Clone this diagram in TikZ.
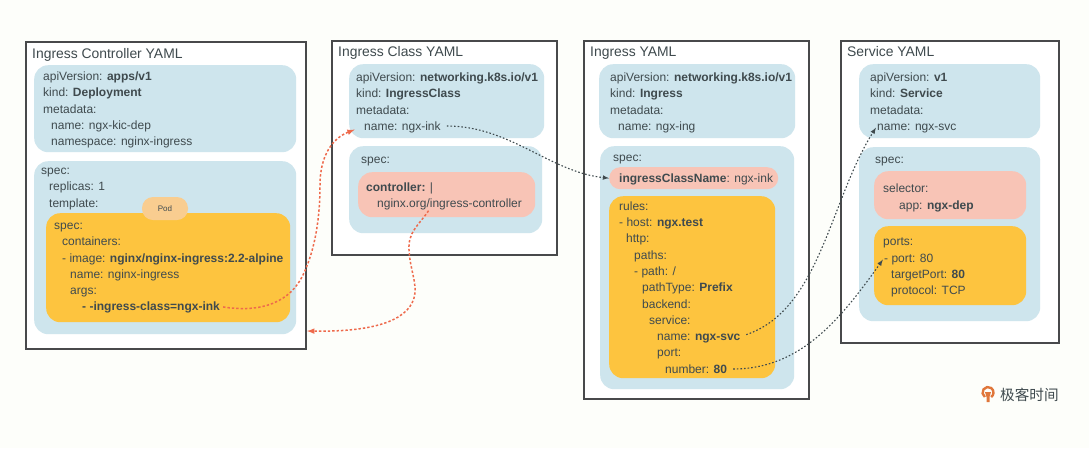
\documentclass[tikz,border=0pt]{standalone}
\usepackage{fontspec}
\setmainfont{Liberation Sans}
\newfontfamily\cjk{Noto Sans CJK SC}
\definecolor{paper}{HTML}{FDFEFA}
\definecolor{framegray}{HTML}{48494B}
\definecolor{bluefill}{HTML}{CEE5ED}
\definecolor{yellowfill}{HTML}{FDC43F}
\definecolor{redfill}{HTML}{F8C4B6}
\definecolor{podfill}{HTML}{F9CD90}
\definecolor{inkgray}{HTML}{3F4A4E}
\definecolor{linkred}{HTML}{EE6A4C}
\definecolor{logoorange}{HTML}{E0763A}
\tikzset{>=latex}
\tikzset{
  panel/.style={draw=framegray,line width=1.6pt,fill=white,anchor=north west,inner sep=0pt},
  blob/.style={anchor=north west,inner sep=0pt,rounded corners=14pt},
  bluebox/.style={blob,fill=bluefill},
  yellowbox/.style={blob,fill=yellowfill},
  redbox/.style={blob,fill=redfill},
  yl/.style={anchor=west,inner sep=0pt,text=inkgray,text height=11pt,text depth=3pt,font=\fontsize{12}{14}\selectfont},
  ttl/.style={anchor=west,inner sep=0pt,text=inkgray,text height=12pt,text depth=3pt,font=\fontsize{13.9}{16}\selectfont},
  redlink/.style={->,linkred,line width=1.5pt,dash pattern=on 2.4pt off 2pt},
  blacklink/.style={->,inkgray,line width=1.1pt,dash pattern=on 1.6pt off 2pt},
}
\newcommand{\bx}[1]{\textbf{#1}}

\begin{document}
\begin{tikzpicture}[x=1pt,y=-1pt]
  \useasboundingbox[fill=paper] (0,0) rectangle (1089,448);

  % frames
  \node[panel,minimum width=280pt,minimum height=307pt] (ctlframe) at (25,41) {};
  \node[panel,minimum width=225pt,minimum height=214pt] (clsframe) at (331,40) {};
  \node[panel,minimum width=225pt,minimum height=358pt] (ingframe) at (583,40) {};
  \node[panel,minimum width=218pt,minimum height=302pt] (svcframe) at (840,40) {};

  % fills
  \node[bluebox,minimum width=262pt,minimum height=87pt] (ctlmeta) at (34,65) {};
  \node[bluebox,minimum width=262pt,minimum height=173pt] (ctlspec) at (34,161) {};
  \node[yellowbox,minimum width=244pt,minimum height=109pt] (ctlpod) at (46,213) {};
  \node[fill=podfill,rounded corners=11pt,minimum width=46pt,minimum height=23pt,inner sep=0pt,text=inkgray,font=\fontsize{8}{9}\selectfont] (podtag) at (165,208.5) {Pod};
  \node[bluebox,minimum width=195pt,minimum height=74pt] (clsmeta) at (349,64) {};
  \node[bluebox,minimum width=193pt,minimum height=87pt] (clsspec) at (349,146) {};
  \node[redbox,minimum width=177pt,minimum height=45pt] (clsctl) at (358,172) {};
  \node[bluebox,minimum width=196pt,minimum height=74pt] (ingmeta) at (599,64) {};
  \node[bluebox,minimum width=194pt,minimum height=243pt] (ingspec) at (600,146) {};
  \node[redbox,rounded corners=11pt,minimum width=169pt,minimum height=22pt] (ingcls) at (609,167) {};
  \node[yellowbox,minimum width=166pt,minimum height=182pt] (ingrules) at (609,196) {};
  \node[bluebox,minimum width=181pt,minimum height=74pt] (svcmeta) at (859,64) {};
  \node[bluebox,minimum width=181pt,minimum height=174pt] (svcspec) at (859,147) {};
  \node[redbox,minimum width=152pt,minimum height=48pt] (svcsel) at (874,171) {};
  \node[yellowbox,minimum width=152pt,minimum height=79pt] (svcports) at (874,226) {};

  % Ingress Controller YAML
  \node[ttl] (ctltitle) at (32,54) {Ingress Controller YAML};
  \node[yl] (c1) at (43,76.5) {apiVersion: \bx{apps/v1}};
  \node[yl] (c2) at (43,92.5) {kind: \bx{Deployment}};
  \node[yl] (c3) at (43,109) {metadata:};
  \node[yl] (c4) at (51,125.5) {name: ngx-kic-dep};
  \node[yl] (c5) at (51,141.5) {namespace: nginx-ingress};
  \node[yl] (c6) at (41,170) {spec:};
  \node[yl] (c7) at (49,186) {replicas: 1};
  \node[yl] (c8) at (49,203) {template:};
  \node[yl] (c9) at (54,225.5) {spec:};
  \node[yl] (c10) at (62,241.5) {containers:};
  \node[yl] (c11) at (62,258) {- image: \bx{nginx/nginx-ingress:2.2-alpine}};
  \node[yl] (c12) at (70,274) {name: nginx-ingress};
  \node[yl] (c13) at (70,290.5) {args:};
  \node[yl] (ctlarg) at (82,306.5) {\bx{- -ingress-class=ngx-ink}};

  % Ingress Class YAML
  \node[ttl] (clstitle) at (338,52) {Ingress Class YAML};
  \node[yl] (k1) at (356,77) {apiVersion: \bx{networking.k8s.io/v1}};
  \node[yl] (k2) at (356,93) {kind: \bx{IngressClass}};
  \node[yl] (k3) at (356,110) {metadata:};
  \node[yl] (clsname) at (364,126) {name: ngx-ink};
  \node[yl] (k4) at (361,159) {spec:};
  \node[yl] (k5) at (366,187) {\bx{controller:} |};
  \node[yl] (clspath) at (377,203.5) {nginx.org/ingress-controller};

  % Ingress YAML
  \node[ttl] (ingtitle) at (590,52) {Ingress YAML};
  \node[yl] (i1) at (610,77) {apiVersion: \bx{networking.k8s.io/v1}};
  \node[yl] (i2) at (610,93) {kind: \bx{Ingress}};
  \node[yl] (i3) at (610,110) {metadata:};
  \node[yl] (i4) at (618,126) {name: ngx-ing};
  \node[yl] (i5) at (613,157) {spec:};
  \node[yl] (ingclsname) at (619,178) {\bx{ingressClassName}: ngx-ink};
  \node[yl] (i6) at (619,206) {rules:};
  \node[yl] (i7) at (619,222) {- host: \bx{ngx.test}};
  \node[yl] (i8) at (626,238.5) {http:};
  \node[yl] (i9) at (634,255) {paths:};
  \node[yl] (i10) at (634,271) {- path: /};
  \node[yl] (i11) at (642,287.5) {pathType: \bx{Prefix}};
  \node[yl] (i12) at (642,304) {backend:};
  \node[yl] (i13) at (649,320) {service:};
  \node[yl] (ingsvc) at (657,336.5) {name: \bx{ngx-svc}};
  \node[yl] (i14) at (657,352.5) {port:};
  \node[yl] (ingport) at (665,369) {number: \bx{80}};

  % Service YAML
  \node[ttl] (svctitle) at (847,52) {Service YAML};
  \node[yl] (s1) at (870,77) {apiVersion: \bx{v1}};
  \node[yl] (s2) at (870,93) {kind: \bx{Service}};
  \node[yl] (s3) at (870,110) {metadata:};
  \node[yl] (svcname) at (877,126) {name: ngx-svc};
  \node[yl] (s4) at (875,159) {spec:};
  \node[yl] (s5) at (883,188) {selector:};
  \node[yl] (s6) at (899,205) {app: \bx{ngx-dep}};
  \node[yl] (s7) at (883,241) {ports:};
  \node[yl] (svcport) at (884,258) {- port: 80};
  \node[yl] (s8) at (891,274) {targetPort: \bx{80}};
  \node[yl] (s9) at (891,290.5) {protocol: TCP};

  % links
  \coordinate (backarrow) at (307,331);
  \draw[redlink,shorten <=3pt,shorten >=10pt] (ctlarg.east) .. controls (262,313) and (290,302) .. (303,275)
    .. controls (316,248) and (320,215) .. (320,185)
    .. controls (320,155) and (333,138) .. (clsname.west);
  \draw[redlink] ([xshift=-21pt]clspath.south) .. controls (418,226) and (408,232) .. (409,250)
    .. controls (410,270) and (418,285) .. (414,298)
    .. controls (407,322) and (370,332) .. (backarrow);
  \draw[blacklink,shorten <=6pt] (clsname.east) .. controls (510,126) and (550,172) .. (ingcls.west);
  \draw[blacklink,shorten <=6pt,shorten >=2pt] (ingsvc.east) .. controls (820,310) and (830,200) .. (svcname.west);
  \draw[blacklink,shorten <=6pt,shorten >=2pt] (ingport.east) .. controls (800,369) and (840,320) .. (svcport.west);

  % logo
  \draw[logoorange,line width=2.4pt] (984.85,397) arc (125:415:5.5);
  \fill[logoorange] (985,392) -- (991,392) -- (989.5,397) -- (989.5,402) -- (986.5,402) -- (986.5,397) -- cycle;
  \node[anchor=west,inner sep=0pt,text=inkgray,font=\cjk\fontsize{14.6}{15}\selectfont] (logotext) at (1000,395) {极客时间};
\end{tikzpicture}
\end{document}
